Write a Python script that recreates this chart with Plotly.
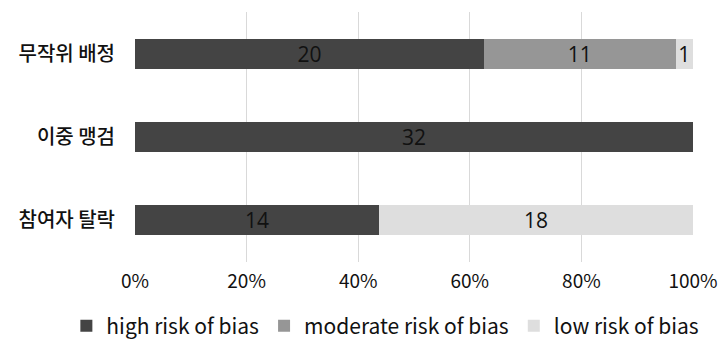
import plotly.graph_objects as go

# Risk-of-bias domains and study counts per judgement
domains = ["무작위 배정", "이중 맹검", "참여자 탈락"]
high_risk = [20, 32, 14]
moderate_risk = [11, 0, 0]
low_risk = [1, 0, 18]

series = [
    ("high risk of bias", high_risk, "#444444"),
    ("moderate risk of bias", moderate_risk, "#969696"),
    ("low risk of bias", low_risk, "#dedede"),
]

totals = [h + m + l for h, m, l in zip(high_risk, moderate_risk, low_risk)]

FONT = "Noto Sans CJK KR"
LABEL_FONT = "Open Sans"

fig = go.Figure()
for name, counts, color in series:
    share = [c / t * 100 for c, t in zip(counts, totals)]
    fig.add_trace(go.Bar(
        y=domains,
        x=share,
        name=name,
        orientation="h",
        marker=dict(color=color, line=dict(width=0)),
        text=[str(c) if c else "" for c in counts],
        textposition="inside",
        insidetextanchor="middle",
        textangle=0,
        textfont=dict(family=LABEL_FONT, size=21, color="#111111"),
        width=0.36,
        hoverinfo="skip",
    ))

fig.update_layout(
    template="none",
    barmode="stack",
    width=720,
    height=340,
    margin=dict(l=135, r=27, t=12, b=78, autoexpand=False),
    paper_bgcolor="white",
    plot_bgcolor="white",
    font=dict(family=FONT, color="#111111"),
    uniformtext=dict(minsize=20, mode="show"),
    xaxis=dict(
        range=[0, 100],
        tickvals=[0, 20, 40, 60, 80, 100],
        ticktext=["0%", "20%", "40%", "60%", "80%", "100%"],
        showgrid=True,
        gridcolor="#d9d9d9",
        gridwidth=1,
        zeroline=False,
        showline=False,
        ticks="",
        ticklabelstandoff=6,
        automargin=False,
        tickfont=dict(family=FONT, size=19, color="#111111"),
        fixedrange=True,
    ),
    yaxis=dict(
        categoryorder="array",
        categoryarray=domains,
        autorange="reversed",
        showgrid=False,
        zeroline=False,
        showline=False,
        ticks="",
        ticklabelstandoff=19,
        automargin=False,
        tickfont=dict(family=FONT, size=20, color="#111111", weight=500),
        fixedrange=True,
    ),
    legend=dict(
        orientation="h",
        x=-0.123,
        xanchor="left",
        y=-0.256,
        yanchor="middle",
        font=dict(family=FONT, size=21, color="#111111"),
        traceorder="normal",
        itemwidth=30,
        bgcolor="rgba(0,0,0,0)",
    ),
    showlegend=True,
)

fig.write_html("out.html")
